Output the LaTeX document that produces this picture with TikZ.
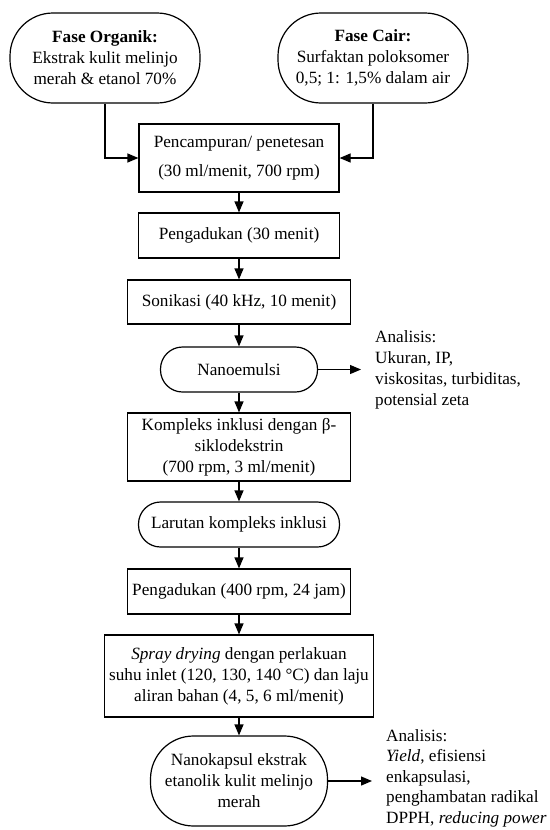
\documentclass[tikz,border=0pt]{standalone}
\usepackage{fontspec}
\setmainfont{Liberation Serif}
\usetikzlibrary{arrows.meta,shapes.misc}
\begin{document}
\begin{tikzpicture}[x=1pt,y=-1pt,
  every node/.style={font=\fontsize{17.2}{21}\selectfont},
  line/.style={line width=1.2pt},
  arr/.style={line width=1.2pt,-{Triangle[length=11pt,width=9pt]}},
  box/.style={draw,line width=1.2pt,rectangle,align=center,inner sep=0pt},
  pill/.style={draw,line width=1.2pt,rectangle,rounded corners=22pt,align=center,inner sep=0pt},
  bigpill/.style={draw,line width=1.2pt,rectangle,rounded corners=43pt,align=center,inner sep=0pt},
  note/.style={anchor=west,align=left,inner xsep=14pt,inner ysep=0pt}]
\useasboundingbox (0,0) rectangle (549,830);
\node[bigpill,minimum width=190pt,minimum height=90pt] (org) at (105,58)
  {\textbf{Fase Organik:}\\Ekstrak kulit melinjo\\merah \& etanol 70\%};
\node[bigpill,minimum width=190pt,minimum height=90pt] (cair) at (373,58)
  {\textbf{Fase Cair:}\\Surfaktan poloksomer\\0,5; 1: 1,5\% dalam air};
\node[box,minimum width=200pt,minimum height=68pt] (mix) at (239,158)
  {Pencampuran/ penetesan\\[8pt](30 ml/menit, 700 rpm)};
\node[box,minimum width=201pt,minimum height=45pt] (aduk) at (239,235.5)
  {Pengadukan (30 menit)};
\node[box,minimum width=223pt,minimum height=44pt] (soni) at (239,302)
  {Sonikasi (40 kHz, 10 menit)};
\node[pill,minimum width=157pt,minimum height=45pt] (nano) at (239,369.5)
  {Nanoemulsi};
\node[box,minimum width=223pt,minimum height=68pt] (komp) at (239,447)
  {Kompleks inklusi dengan β-\\siklodekstrin\\(700 rpm, 3 ml/menit)};
\node[pill,minimum width=201pt,minimum height=45pt] (larut) at (239,524.5)
  {Larutan kompleks inklusi};
\node[box,minimum width=223pt,minimum height=45pt] (aduk2) at (239,591.5)
  {Pengadukan (400 rpm, 24 jam)};
\node[box,minimum width=269pt,minimum height=82pt] (spray) at (239,676)
  {\textit{Spray drying} dengan perlakuan\\suhu inlet (120, 130, 140 °C) dan laju\\aliran bahan (4, 5, 6 ml/menit)};
\node[bigpill,minimum width=177pt,minimum height=90pt] (kapsul) at (239,781)
  {Nanokapsul ekstrak\\etanolik kulit melinjo\\merah};
\node[note] (ana1) at (361,370)
  {Analisis:\\Ukuran, IP,\\viskositas, turbiditas,\\potensial zeta};
\node[note,font=\fontsize{17.2}{20.5}\selectfont] (ana2) at (372,778)
  {Analisis:\\\textit{Yield}, efisiensi\\enkapsulasi,\\penghambatan radikal\\DPPH, \textit{reducing power}};
\draw[arr] (org.south) |- (mix.west);
\draw[arr] (cair.south) |- (mix.east);
\draw[arr] (mix) -- (aduk);
\draw[arr] (aduk) -- (soni);
\draw[arr] (soni) -- (nano);
\draw[arr] (nano) -- (komp);
\draw[arr] (komp) -- (larut);
\draw[arr] (larut) -- (aduk2);
\draw[arr] (aduk2) -- (spray);
\draw[arr] (spray) -- (kapsul);
\draw[arr] (nano.east) -- (nano.east -| ana1.west);
\draw[arr] (kapsul.east) -- (kapsul.east -| ana2.west);
\end{tikzpicture}
\end{document}
